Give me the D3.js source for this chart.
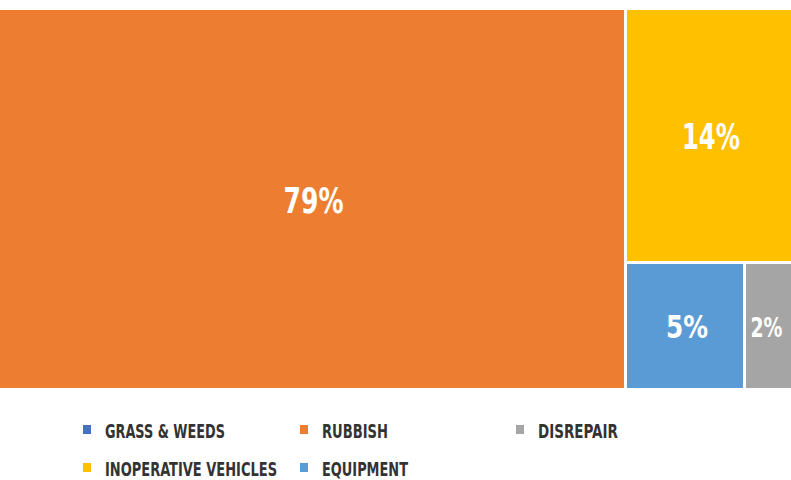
<!DOCTYPE html>
<html><head><meta charset="utf-8">
<script src="https://cdn.jsdelivr.net/npm/d3@7"></script>
<style>body{margin:0;background:#fff}svg{display:block}</style>
</head><body>
<svg id="c" width="791" height="480"></svg>
<script>
const categories = ["Grass & Weeds","Rubbish","Disrepair","Inoperative Vehicles","Equipment"];
const values = [0, 79, 2, 14, 5];
const legendColors = ["#4472C4","#ED7D31","#A5A5A5","#FFC000","#5B9BD5"];
const labels = ["0%","79%","2%","14%","5%"];

const svg = d3.select("#c");
const font = "'DejaVu Sans Condensed','Liberation Sans Narrow',sans-serif";

const root = d3.hierarchy({children: categories.map((c,i)=>({name:c, value:values[i], color:legendColors[i], label:labels[i]}))})
  .sum(d => d.value || 0)
  .sort((a,b)=>b.value-a.value);
d3.treemap().tile(d3.treemapSquarify).size([792, 378]).paddingInner(3).round(true)(root);

const g = svg.append("g").attr("transform","translate(-1,10)");
const leaves = root.leaves().filter(d=>d.value>0);
g.selectAll("rect").data(leaves).join("rect")
  .attr("x", d=>d.x0).attr("y", d=>d.y0)
  .attr("width", d=>d.x1-d.x0).attr("height", d=>d.y1-d.y0)
  .attr("fill", d=>d.data.color);
const lw = {"79%":60,"14%":58,"5%":42,"2%":32};
const lf = {"79%":36,"14%":36,"5%":32,"2%":27};
g.selectAll("text").data(leaves).join("text")
  .attr("x", d=>(d.x0+d.x1)/2 + (d.data.label==="2%"? -2 : 2)).attr("y", d=>(d.y0+d.y1)/2 + 1)
  .attr("text-anchor","middle").attr("dominant-baseline","central")
  .attr("fill","#fff").attr("font-family",font).attr("font-weight","bold")
  .attr("font-size", d=>lf[d.data.label])
  .attr("textLength", d=>lw[d.data.label]).attr("lengthAdjust","spacingAndGlyphs")
  .text(d=>d.data.label);

// legend
const legPos = [[83,430],[300,430],[516,430],[83,468],[300,468]];
const legW = [120,66,80,172,86];
const lg = svg.append("g");
categories.forEach((c,i)=>{
  const [x,y] = legPos[i];
  lg.append("rect").attr("x",x).attr("y",y-5).attr("width",8).attr("height",9).attr("fill",legendColors[i]);
  lg.append("text").attr("x",x+22).attr("y",y+1).attr("dominant-baseline","central")
    .attr("font-family",font).attr("font-weight","bold").attr("font-size",19)
    .attr("textLength",legW[i]).attr("lengthAdjust","spacingAndGlyphs")
    .attr("fill","#333").text(c.toUpperCase());
});
</script>
</body></html>
